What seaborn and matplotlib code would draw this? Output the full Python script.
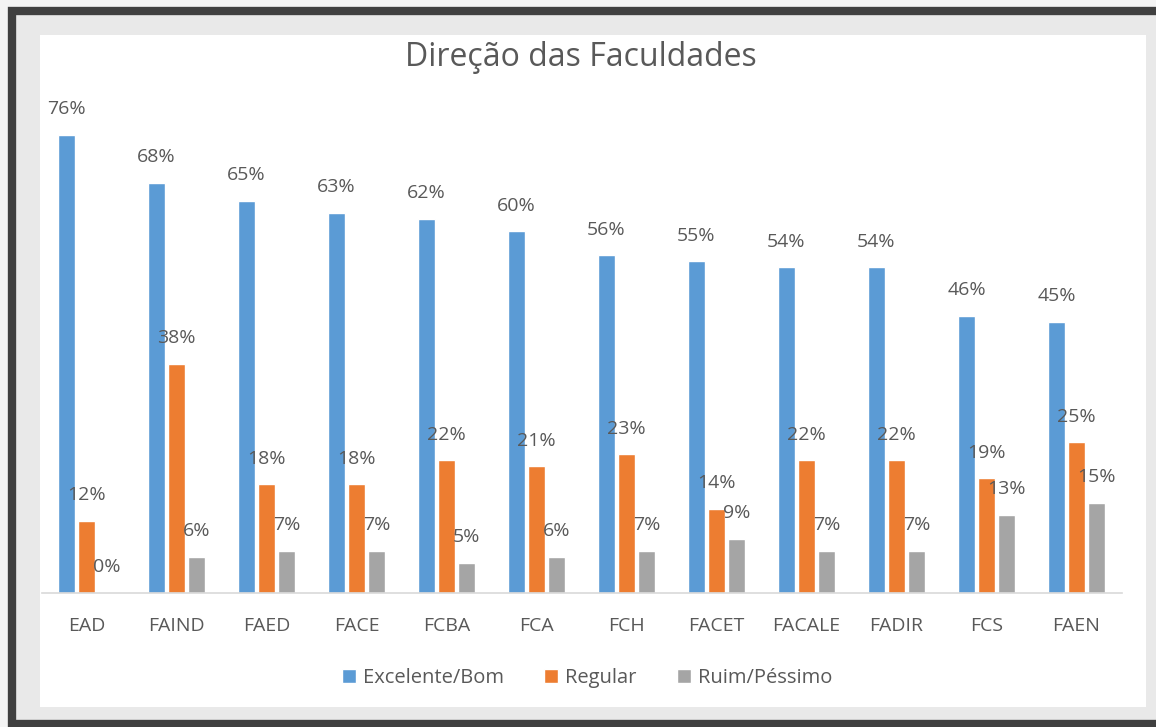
import matplotlib
matplotlib.use("Agg")
import matplotlib.pyplot as plt
import seaborn as sns
import pandas as pd
from matplotlib.patches import Rectangle

categories = ["EAD", "FAIND", "FAED", "FACE", "FCBA", "FCA", "FCH", "FACET", "FACALE", "FADIR", "FCS", "FAEN"]
excelente = [76, 68, 65, 63, 62, 60, 56, 55, 54, 54, 46, 45]
regular = [12, 38, 18, 18, 22, 21, 23, 14, 22, 22, 19, 25]
ruim = [0, 6, 7, 7, 5, 6, 7, 9, 7, 7, 13, 15]
series_names = ["Excelente/Bom", "Regular", "Ruim/Péssimo"]
colors = ["#5b9bd5", "#ed7d31", "#a5a5a5"]

rows = []
for name, vals in zip(series_names, [excelente, regular, ruim]):
    for c, v in zip(categories, vals):
        rows.append({"cat": c, "serie": name, "val": v})
df = pd.DataFrame(rows)

sns.set_theme(style="white")
plt.rcParams['font.family'] = ['Open Sans', 'DejaVu Sans']
text_color = "#595959"

W, H = 1156, 727
fig = plt.figure(figsize=(W / 100, H / 100), dpi=100)
fig.patch.set_facecolor("#f4f4f4")

# inner frame background and dark border
fig.patches.append(Rectangle((12 / W, 3 / H), 1.1, (H - 14) / H, transform=fig.transFigure,
                             facecolor="#e9e9e9", edgecolor="#404040", linewidth=6, zorder=-10))
# white chart panel
fig.patches.append(Rectangle((40 / W, 20 / H), 1106 / W, 672 / H, transform=fig.transFigure,
                             facecolor="white", edgecolor="none", zorder=-9))

ax = fig.add_axes([41.5 / W, (H - 593) / H, 1080 / W, 493 / H])
ax.set_facecolor("none")
sns.barplot(data=df, x="cat", y="val", hue="serie", order=categories, hue_order=series_names,
            palette=colors, width=0.667, gap=0.12, saturation=1, ax=ax, legend=True)

for cont in ax.containers:
    vals = [p.get_height() for p in cont]
    ax.bar_label(cont, labels=[f"{int(round(v))}%" for v in vals], padding=12,
                 fontsize=14, color=text_color)

ax.set_xlim(-0.5, len(categories) - 0.5)
ax.set_ylim(0, 81.76)
ax.set_xlabel("")
ax.set_ylabel("")
ax.set_yticks([])
ax.tick_params(axis="x", length=0, pad=17, labelsize=14, colors=text_color)
for s in ["top", "right", "left"]:
    ax.spines[s].set_visible(False)
ax.spines["bottom"].set_color("#d9d9d9")
ax.spines["bottom"].set_linewidth(1.2)

handles, labels = ax.get_legend_handles_labels()
ax.get_legend().remove()
fig.legend(handles, labels, loc="center", bbox_to_anchor=(587 / W, 1 - 678 / H), ncol=3,
           frameon=False, fontsize=14.5, labelcolor=text_color, handlelength=0.7, handleheight=0.7,
           handletextpad=0.35, columnspacing=2.0)

fig.text(581 / W, 1 - 58 / H, "Direção das Faculdades", ha="center", va="center",
         fontsize=23, color=text_color)

fig.savefig("out.png", dpi=100)
